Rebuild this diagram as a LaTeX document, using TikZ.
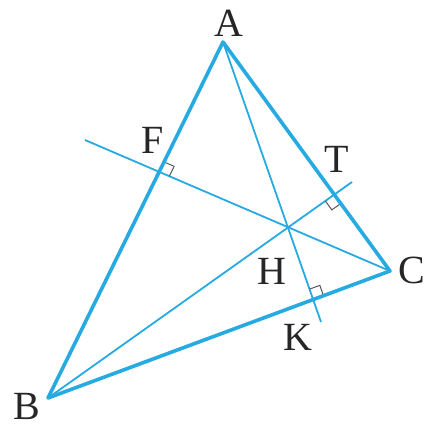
\documentclass[tikz,border=0pt]{standalone}
\usepackage{fontspec}
\setmainfont{Liberation Serif}
\usetikzlibrary{calc}
\definecolor{tri}{RGB}{38,170,225}
\begin{document}
\begin{tikzpicture}[x=1pt,y=-1pt,
 side/.style={draw=tri,line width=3.6pt,line join=round,line cap=round},
 alt/.style={draw=tri,line width=1.8pt},
 rmark/.style={draw=black!65,line width=1pt},
 lab/.style={font=\fontsize{40}{40}\selectfont,text=black!85,inner sep=0pt}]
\useasboundingbox (0,0) rectangle (436,435);
\coordinate (A) at (223,42);
\coordinate (B) at (48,398);
\coordinate (C) at (390,271);
\coordinate (Fend) at (85,140);
\coordinate (Tend) at (352,182);
\coordinate (Kend) at (321,322);
\coordinate (F) at (intersection of A--B and C--Fend);
\coordinate (T) at (intersection of A--C and B--Tend);
\coordinate (K) at (intersection of B--C and A--Kend);
\coordinate (H) at (intersection of A--Kend and B--Tend);
% altitudes
\draw[alt] (C) -- (Fend);
\draw[alt] (B) -- (Tend);
\draw[alt] (A) -- (Kend);
% right-angle marks
\coordinate (F1) at ($(F)!11pt!(A)$);
\coordinate (F2) at ($(F)!11pt!(C)$);
\draw[rmark] (F1) -- ($(F1)+(F2)-(F)$) -- (F2);
\coordinate (T1) at ($(T)!11pt!(B)$);
\coordinate (T2) at ($(T)!11pt!(C)$);
\draw[rmark] (T1) -- ($(T1)+(T2)-(T)$) -- (T2);
\coordinate (K1) at ($(K)!11pt!(A)$);
\coordinate (K2) at ($(K)!11pt!(C)$);
\draw[rmark] (K1) -- ($(K1)+(K2)-(K)$) -- (K2);
% triangle
\draw[side] (A) -- (B) -- (C) -- cycle;
% labels
\node[lab] (lA) at (229,23) {A};
\node[lab] (lB) at (27,406) {B};
\node[lab] (lC) at (412,270) {C};
\node[lab] (lF) at (153,140) {F};
\node[lab] (lT) at (337,159) {T};
\node[lab] (lH) at (272,271) {H};
\node[lab] (lK) at (298,337) {K};
\end{tikzpicture}
\end{document}
